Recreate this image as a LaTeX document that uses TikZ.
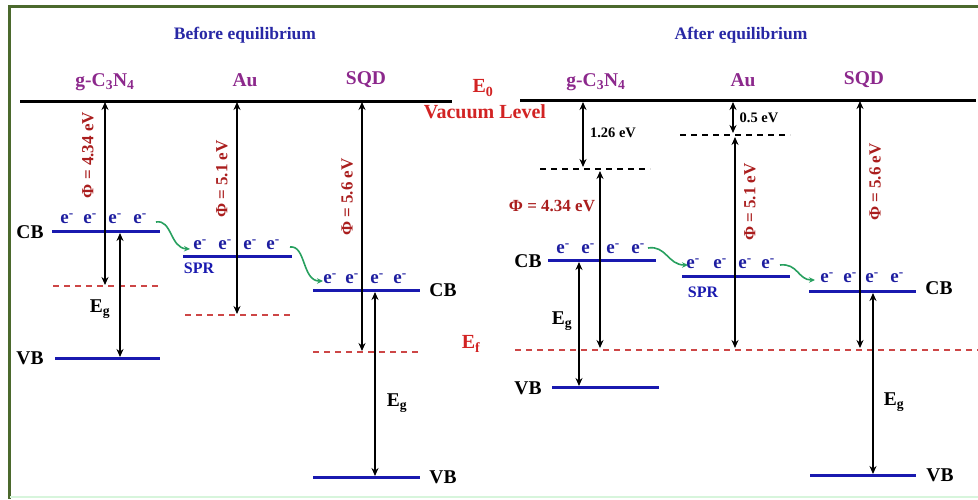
\documentclass[tikz,border=0pt]{standalone}
\usepackage{fontspec}
\setmainfont{Liberation Serif}
\usetikzlibrary{arrows.meta}
\definecolor{ttlblue}{RGB}{40,40,165}
\definecolor{matpurple}{RGB}{140,40,140}
\definecolor{bandblue}{RGB}{25,25,175}
\definecolor{eblue}{RGB}{30,30,160}
\definecolor{phired}{RGB}{170,30,30}
\definecolor{vacred}{RGB}{210,35,35}
\definecolor{dashred}{RGB}{205,70,70}
\definecolor{grarrow}{RGB}{40,160,95}
\definecolor{framegreen}{RGB}{75,105,45}
\definecolor{palegreen}{RGB}{215,245,220}
\newcommand{\fs}[1]{\fontsize{#1}{#1}\selectfont\bfseries}
\tikzset{
  ttl/.style={text=ttlblue,font=\fs{17.5}},
  mat/.style={text=matpurple,font=\fs{19.5}},
  bandlbl/.style={text=black,font=\fs{19.5}},
  elec/.style={text=eblue,font=\fs{19},inner sep=0pt},
  phil/.style={text=phired,font=\fs{17},inner sep=0pt},
  small/.style={text=black,font=\fs{14.5},inner sep=0pt},
  vac/.style={text=vacred,font=\fs{20},inner sep=0pt},
  band/.style={draw=bandblue,line width=3pt},
  vacline/.style={draw=black,line width=3pt},
  rdash/.style={draw=dashred,line width=1.5pt,dash pattern=on 6pt off 5pt},
  kdash/.style={draw=black,line width=1.6pt,dash pattern=on 6pt off 5pt},
  dbl/.style={draw=black,line width=2.3pt,{Stealth[length=8pt,width=7pt]}-{Stealth[length=8pt,width=7pt]}},
  garrow/.style={draw=grarrow,line width=1.6pt,-{Stealth[length=6pt,width=5.5pt]}},
}
\begin{document}
\begin{tikzpicture}[x=1pt,y=-1pt]
\useasboundingbox (0,0) rectangle (978,499);
% frame
\draw[framegreen,line width=3pt] (8,6) -- (978,6);
\draw[framegreen,line width=3pt] (9,5) -- (9,499);
\draw[palegreen,line width=1.5pt] (10,497) -- (978,497);

% titles
\node[ttl] (tb) at (245,35) {Before equilibrium};
\node[ttl] (ta) at (741,35) {After equilibrium};

% materials
\node[mat] (m1) at (105,82) {g-C\textsubscript{3}N\textsubscript{4}};
\node[mat] (m2) at (245,80) {Au};
\node[mat] (m3) at (366,80) {SQD};
\node[mat] (m4) at (596,82) {g-C\textsubscript{3}N\textsubscript{4}};
\node[mat] (m5) at (743,80) {Au};
\node[mat] (m6) at (864,80) {SQD};

% vacuum lines
\coordinate (vl1) at (20,101); \coordinate (vl2) at (452,101);
\coordinate (vr1) at (520,100); \coordinate (vr2) at (976,100);
\draw[vacline] (vl1) -- (vl2);
\draw[vacline] (vr1) -- (vr2);
\node[vac] (e0) at (483,88) {E\textsubscript{0}};
\node[vac] (vlv) at (485,112) {Vacuum Level};
\node[vac] (ef) at (471,344) {E\textsubscript{f}};

% ===== Before equilibrium =====
% g-C3N4
\coordinate (gcb1) at (52,231); \coordinate (gcb2) at (160,231);
\coordinate (gvb1) at (55,358); \coordinate (gvb2) at (160,358);
\coordinate (gef1) at (53,286); \coordinate (gef2) at (160,286);
\draw[band] (gcb1) -- (gcb2);
\draw[band] (gvb1) -- (gvb2);
\draw[rdash] (gef1) -- (gef2);
\node[bandlbl] (gcb) at (30,232) {CB};
\node[bandlbl] (gvb) at (30,358) {VB};
\foreach \x [count=\i] in {67,90,115,140} \node[elec] (ge\i) at (\x,219) {e\textsuperscript{-}};
\coordinate (gp1) at (105,102); \coordinate (gp2) at (105,285);
\draw[dbl] (gp1) -- (gp2);
\node[phil,rotate=90] (gphi) at (88,155) {Φ = 4.34 eV};
\coordinate (gg1) at (120,233); \coordinate (gg2) at (120,357);
\draw[dbl] (gg1) -- (gg2);
\node[bandlbl] (geg) at (100,309) {E\textsubscript{g}};

% Au
\coordinate (acb1) at (183,256); \coordinate (acb2) at (292,256);
\coordinate (aef1) at (185,315); \coordinate (aef2) at (292,315);
\draw[band] (acb1) -- (acb2);
\draw[rdash] (aef1) -- (aef2);
\foreach \x [count=\i] in {200,225,250,273} \node[elec] (ae\i) at (\x,245) {e\textsuperscript{-}};
\node[text=bandblue,font=\fs{16}] (spr1) at (199,268) {SPR};
\coordinate (ap1) at (237,102); \coordinate (ap2) at (237,314);
\draw[dbl] (ap1) -- (ap2);
\node[phil,rotate=90] (aphi) at (222,179) {Φ = 5.1 eV};

% SQD
\coordinate (scb1) at (313,290); \coordinate (scb2) at (420,290);
\coordinate (svb1) at (313,477); \coordinate (svb2) at (420,477);
\coordinate (sef1) at (313,352); \coordinate (sef2) at (420,352);
\draw[band] (scb1) -- (scb2);
\draw[band] (svb1) -- (svb2);
\draw[rdash] (sef1) -- (sef2);
\node[bandlbl] (scb) at (443,290) {CB};
\node[bandlbl] (svb) at (443,477) {VB};
\foreach \x [count=\i] in {330,352,377,400} \node[elec] (se\i) at (\x,279) {e\textsuperscript{-}};
\coordinate (sp1) at (362,102); \coordinate (sp2) at (362,351);
\draw[dbl] (sp1) -- (sp2);
\node[phil,rotate=90] (sphi) at (347,197) {Φ = 5.6 eV};
\coordinate (sg1) at (375,292); \coordinate (sg2) at (375,476);
\draw[dbl] (sg1) -- (sg2);
\node[bandlbl] (seg) at (397,403) {E\textsubscript{g}};

% green transfer arrows
\coordinate (ga1) at (156,222); \coordinate (ga2) at (190,249);
\draw[garrow] (ga1) .. controls (172,219) and (170,248) .. (ga2);
\coordinate (gb1) at (290,247); \coordinate (gb2) at (323,281);
\draw[garrow] (gb1) .. controls (306,245) and (302,281) .. (gb2);

% ===== After equilibrium =====
\coordinate (ef1) at (515,350); \coordinate (ef2) at (978,350);
\draw[rdash] (ef1) -- (ef2);

% g-C3N4
\coordinate (hk1) at (540,169); \coordinate (hk2) at (650,169);
\draw[kdash] (hk1) -- (hk2);
\coordinate (h1) at (583,102); \coordinate (h2) at (583,167);
\draw[dbl] (h1) -- (h2);
\node[small] (h126) at (613,133) {1.26 eV};
\coordinate (hcb1) at (548,260); \coordinate (hcb2) at (656,260);
\coordinate (hvb1) at (552,387); \coordinate (hvb2) at (659,387);
\draw[band] (hcb1) -- (hcb2);
\draw[band] (hvb1) -- (hvb2);
\node[bandlbl] (hcb) at (528,261) {CB};
\node[bandlbl] (hvb) at (528,388) {VB};
\foreach \x [count=\i] in {563,588,613,638} \node[elec] (he\i) at (\x,249) {e\textsuperscript{-}};
\coordinate (hp1) at (600,171); \coordinate (hp2) at (600,348);
\draw[dbl] (hp1) -- (hp2);
\node[phil] (hphi) at (552,206) {Φ = 4.34 eV};
\coordinate (hg1) at (579,262); \coordinate (hg2) at (579,386);
\draw[dbl] (hg1) -- (hg2);
\node[bandlbl] (heg) at (562,321) {E\textsubscript{g}};

% Au
\coordinate (bk1) at (680,135); \coordinate (bk2) at (790,135);
\draw[kdash] (bk1) -- (bk2);
\coordinate (b1) at (733,102); \coordinate (b2) at (733,133);
\draw[dbl] (b1) -- (b2);
\node[small] (b05) at (759,118) {0.5 eV};
\coordinate (bcb1) at (682,276); \coordinate (bcb2) at (790,276);
\draw[band] (bcb1) -- (bcb2);
\foreach \x [count=\i] in {693,720,745,768} \node[elec] (be\i) at (\x,264) {e\textsuperscript{-}};
\node[text=bandblue,font=\fs{16}] (spr2) at (703,292) {SPR};
\coordinate (bp1) at (735,137); \coordinate (bp2) at (735,348);
\draw[dbl] (bp1) -- (bp2);
\node[phil,rotate=90] (bphi) at (750,202) {Φ = 5.1 eV};

% SQD
\coordinate (tcb1) at (809,291); \coordinate (tcb2) at (916,291);
\coordinate (tvb1) at (810,475); \coordinate (tvb2) at (916,475);
\draw[band] (tcb1) -- (tcb2);
\draw[band] (tvb1) -- (tvb2);
\node[bandlbl] (tcb) at (939,288) {CB};
\node[bandlbl] (tvb) at (940,475) {VB};
\foreach \x [count=\i] in {827,850,872,897} \node[elec] (te\i) at (\x,278) {e\textsuperscript{-}};
\coordinate (tp1) at (860,101); \coordinate (tp2) at (860,348);
\draw[dbl] (tp1) -- (tp2);
\node[phil,rotate=90] (tphi) at (875,182) {Φ = 5.6 eV};
\coordinate (tg1) at (873,293); \coordinate (tg2) at (873,474);
\draw[dbl] (tg1) -- (tg2);
\node[bandlbl] (teg) at (894,402) {E\textsubscript{g}};

% green transfer arrows
\coordinate (gc1) at (648,248); \coordinate (gc2) at (688,265);
\draw[garrow] (gc1) .. controls (666,245) and (668,265) .. (gc2);
\coordinate (gd1) at (780,265); \coordinate (gd2) at (815,280);
\draw[garrow] (gd1) .. controls (798,263) and (798,280) .. (gd2);
\end{tikzpicture}
\end{document}
